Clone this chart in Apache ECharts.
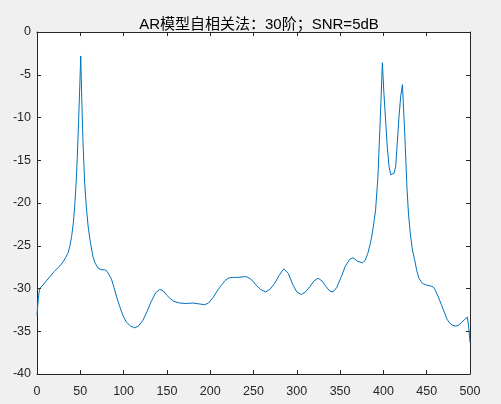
<!DOCTYPE html>
<html>
<head>
<meta charset="utf-8">
<script src="https://cdn.jsdelivr.net/npm/echarts@6/dist/echarts.min.js"></script>
<style>
  html, body { margin: 0; padding: 0; background: #f0f0f0; }
  #chart { width: 501px; height: 404px; }
</style>
</head>
<body>
<div id="chart"></div>
<script>
// frequency (Hz) and PSD (dB)
const freq = [
  0, 1.5, 3, 6, 10, 15, 20, 26, 30, 33, 36, 38, 40, 42, 43.5, 45, 46.6, 48, 49.5, 50.5,
  51.5, 53, 55, 57, 59, 61.5, 64.7, 67, 70.4, 74, 78, 81, 83, 86, 89, 92, 95.5, 99, 103, 108,
  112.8, 117, 122.4, 127, 132, 137, 141.7, 146, 150, 153, 158, 164.8, 172, 180, 187, 193.6, 198, 203, 208, 213,
  217, 220.6, 226, 232, 241.8, 247, 253, 258, 264, 269, 274.5, 280, 285, 290, 295.6, 300, 305.3, 310, 315, 320,
  324.5, 329, 334, 338, 341.8, 346, 351.5, 356, 361, 365, 370, 375.7, 379, 382, 385, 387.3, 389, 391, 393.7, 396.5,
  398.8, 400.5, 402.7, 404.5, 406.5, 408.5, 410.4, 412.5, 414.2, 416, 418, 420, 422, 423.3, 424.6, 427.3, 429, 431, 433.5, 436,
  438.5, 441, 445, 449.7, 454, 457.3, 460, 463, 467, 470.8, 473.5, 476.6, 480, 483.5, 487, 490, 494, 497, 498.5, 500
];
const psd = [
  -33.1, -31.2, -30.0, -29.7, -29.2, -28.6, -28.0, -27.4, -26.9, -26.4, -25.8, -25.0, -23.9, -22.3, -20.4, -18.0, -14.5, -10.5, -6.0, -2.8,
  -7.0, -12.6, -17.6, -20.5, -22.7, -24.5, -26.3, -27.0, -27.6, -27.8, -27.8, -28.0, -28.2, -28.9, -29.9, -31.0, -32.1, -33.1, -33.9, -34.4,
  -34.6, -34.4, -33.7, -32.7, -31.5, -30.5, -30.1, -30.3, -30.8, -31.1, -31.5, -31.7, -31.75, -31.7, -31.8, -31.9, -31.7, -31.1, -30.3, -29.6,
  -29.1, -28.8, -28.7, -28.7, -28.6, -28.9, -29.6, -30.1, -30.4, -30.1, -29.4, -28.4, -27.7, -28.2, -29.6, -30.4, -30.7, -30.4, -29.8, -29.1,
  -28.8, -29.1, -29.8, -30.3, -30.4, -29.9, -28.6, -27.4, -26.6, -26.4, -26.8, -27.0, -26.7, -25.9, -24.7, -23.5, -22.3, -20.8, -16.9, -9.9,
  -3.6, -7.0, -10.6, -13.5, -15.7, -16.7, -16.9, -16.5, -15.7, -13.0, -9.9, -7.5, -6.15, -9.0, -11.8, -18.4, -21.3, -23.5, -25.5, -26.6,
  -27.9, -28.8, -29.4, -29.6, -29.7, -29.8, -30.2, -30.9, -31.9, -32.9, -33.6, -34.05, -34.3, -34.4, -34.3, -34.0, -33.6, -33.35, -34.5, -36.3
];
const titleText = 'AR模型自相关法：30阶；SNR=5dB';

const axisColor = '#262626';
const fontFamily = '"Liberation Sans", Arial, "Noto Sans CJK SC", sans-serif';

const myChart = echarts.init(document.getElementById('chart'));

const baseX = {
  type: 'value',
  min: 0,
  max: 500,
  interval: 50,
  axisLine: { show: true, onZero: false, lineStyle: { color: axisColor, width: 1 } },
  axisTick: { show: true, inside: true, length: 4, lineStyle: { color: axisColor } },
  splitLine: { show: false },
};
const baseY = {
  type: 'value',
  min: -40,
  max: 0,
  interval: 5,
  axisLine: { show: true, onZero: false, lineStyle: { color: axisColor, width: 1 } },
  axisTick: { show: true, inside: true, length: 4, lineStyle: { color: axisColor } },
  splitLine: { show: false },
};

const option = {
  backgroundColor: '#f0f0f0',
  animation: false,
  title: {
    text: titleText,
    left: 254,
    textAlign: 'center',
    top: 12,
    textStyle: { fontFamily, fontSize: 15, fontWeight: 'normal', color: '#000' },
  },
  grid: {
    left: 37,
    right: 31,
    top: 32,
    bottom: 30,
    show: true,
    backgroundColor: '#fff',
    borderWidth: 0,
  },
  xAxis: [
    Object.assign({}, baseX, {
      position: 'bottom',
      axisLabel: { color: axisColor, fontFamily, fontSize: 12.5, margin: 11 },
    }),
    Object.assign({}, baseX, { position: 'top', axisLabel: { show: false } }),
  ],
  yAxis: [
    Object.assign({}, baseY, {
      position: 'left',
      axisLabel: { color: axisColor, fontFamily, fontSize: 12.5, margin: 6 },
    }),
    Object.assign({}, baseY, { position: 'right', axisLabel: { show: false } }),
  ],
  series: [
    {
      type: 'line',
      xAxisIndex: 0,
      yAxisIndex: 0,
      showSymbol: false,
      smooth: false,
      lineStyle: { color: '#0072BD', width: 1 },
      data: freq.map((f, i) => [f, psd[i]]),
    },
  ],
};

myChart.setOption(option);
</script>
</body>
</html>
